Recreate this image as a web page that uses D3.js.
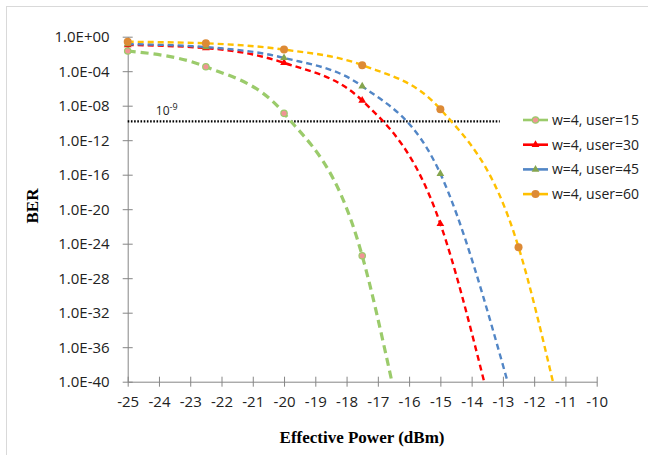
<!DOCTYPE html>
<html>
<head>
<meta charset="utf-8">
<script src="https://cdn.jsdelivr.net/npm/d3@7"></script>
<style>
    body { margin: 0; background: #fff; }
    svg { display: block; }
</style>
</head>
<body>
<svg id="chart" width="648" height="455"></svg>
<script>
// Effective power (dBm) and BER; last point of each is where the curve meets the 1E-40 floor
const power15 = [-25, -22.5, -20, -17.5, -16.55];
const ber15 = [2.2e-2, 3.3e-4, 1.3e-9, 4e-26, 1e-40];
const power30 = [-25, -22.5, -20, -17.5, -15, -13.6];
const ber30 = [1.1e-1, 4.8e-2, 9.3e-4, 4e-8, 2e-22, 1e-40];
const power45 = [-25, -22.5, -20, -17.5, -15, -12.85];
const ber45 = [1.4e-1, 6.3e-2, 3.5e-3, 1.8e-6, 1.3e-16, 1e-40];
const power60 = [-25, -22.5, -20, -17.5, -15, -12.5, -11.4];
const ber60 = [2.6e-1, 1.7e-1, 3.2e-2, 5e-4, 4e-9, 4e-25, 1e-40];

const seriesNames = ["w=4, user=15", "w=4, user=30", "w=4, user=45", "w=4, user=60"];
const xTicks = d3.range(-25, -9, 1);
const yTickExponents = [0, -4, -8, -12, -16, -20, -24, -28, -32, -36, -40];
const threshold = 1.5e-10;      // dotted reference line (labelled 10^-9)
const thresholdEnd = -13.1;

const svg = d3.select("#chart");
const margin = { top: 36.7, right: 51.3, bottom: 73.3, left: 127.7 };
const width = 648 - margin.left - margin.right;
const height = 455 - margin.top - margin.bottom;

// outer chart border
svg.append("rect")
    .attr("x", 6.5).attr("y", 6.5)
    .attr("width", 700).attr("height", 500)
    .attr("fill", "none")
    .attr("stroke", "#d9d9d9");

const g = svg.append("g").attr("transform", `translate(${margin.left},${margin.top})`);

const x = d3.scaleLinear().domain([-25, -10]).range([0, width]);
const y = d3.scaleLog().domain([1e-40, 1]).range([height, 0]);

g.append("clipPath").attr("id", "plotClip")
    .append("rect").attr("x", 0).attr("y", -10).attr("width", width).attr("height", height + 10);

// axes
const fmt = e => "1.0E" + (e >= 0 ? "+" : "-") + String(Math.abs(e)).padStart(2, "0");

const yAxis = g.append("g")
    .call(d3.axisLeft(y).tickValues(yTickExponents.map(e => Math.pow(10, e))).tickSizeInner(5).tickSizeOuter(0).tickPadding(13)
        .tickFormat((d, i) => fmt(yTickExponents[i])));
yAxis.selectAll(".tick line").attr("x1", 5);

const xAxis = g.append("g")
    .attr("transform", `translate(0,${height})`)
    .call(d3.axisBottom(x).tickValues(xTicks).tickSizeInner(5).tickSizeOuter(0).tickPadding(10)
        .tickFormat(d => String(d)));
xAxis.selectAll(".tick line").attr("y1", -5);

[yAxis, xAxis].forEach(ax => {
    ax.select(".domain").attr("stroke", "#868686");
    ax.selectAll(".tick line").attr("stroke", "#868686");
    ax.selectAll(".tick text")
        .attr("fill", "#222")
        .style("font-family", "'Open Sans', sans-serif")
        .style("font-size", "15px");
});

// axis titles
svg.append("text")
    .attr("transform", "translate(38,206) rotate(-90)")
    .attr("text-anchor", "middle")
    .style("font-family", "'Liberation Serif', 'Times New Roman', serif")
    .style("font-weight", "bold")
    .style("font-size", "17px")
    .text("BER");

svg.append("text")
    .attr("x", 362).attr("y", 443)
    .attr("text-anchor", "middle")
    .style("font-family", "'Liberation Serif', 'Times New Roman', serif")
    .style("font-weight", "bold")
    .style("font-size", "17px")
    .text("Effective Power (dBm)");

// threshold line
g.append("line")
    .attr("x1", x(-25)).attr("x2", x(thresholdEnd))
    .attr("y1", y(threshold)).attr("y2", y(threshold))
    .attr("stroke", "#000")
    .attr("stroke-width", 2.2)
    .attr("stroke-dasharray", "1.6,1.6");

const thrLabel = g.append("text")
    .attr("x", x(-24.1)).attr("y", y(threshold) - 6)
    .style("font-family", "'Open Sans', sans-serif")
    .style("font-size", "12px")
    .attr("fill", "#222");
thrLabel.append("tspan").text("10");
thrLabel.append("tspan").attr("dy", -5).style("font-size", "9px").text("-9");

const series = [
    { name: seriesNames[0], xs: power15, ys: ber15, color: "#9bcb6b", width: 3.2, dash: "8,5", marker: "circle", fill: "#f09494", stroke: "#9bcb6b", size: 3.2 },
    { name: seriesNames[1], xs: power30, ys: ber30, color: "#ff0000", width: 2.4, dash: "6,4", marker: "triangle", fill: "#ff0000", stroke: "none", size: 3.5 },
    { name: seriesNames[2], xs: power45, ys: ber45, color: "#5286c6", width: 2.4, dash: "6,4", marker: "triangle", fill: "#85a54e", stroke: "none", size: 3.5 },
    { name: seriesNames[3], xs: power60, ys: ber60, color: "#ffc000", width: 2.4, dash: "6,4", marker: "circle", fill: "#dd8a35", stroke: "none", size: 4 }
];

const line = d3.line()
    .x(d => x(d[0]))
    .y(d => y(d[1]))
    .curve(d3.curveMonotoneX);

function drawMarker(sel, s, px, py) {
    if (s.marker === "circle") {
        sel.append("circle")
            .attr("cx", px).attr("cy", py).attr("r", s.size)
            .attr("fill", s.fill)
            .attr("stroke", s.stroke)
            .attr("stroke-width", 1.2);
    } else {
        sel.append("path")
            .attr("transform", `translate(${px},${py})`)
            .attr("d", d3.symbol(d3.symbolTriangle, 26)())
            .attr("fill", s.fill);
    }
}

const plot = g.append("g").attr("clip-path", "url(#plotClip)");

series.forEach(s => {
    const pts = s.xs.map((v, i) => [v, s.ys[i]]);
    plot.append("path")
        .datum(pts)
        .attr("d", line)
        .attr("fill", "none")
        .attr("stroke", s.color)
        .attr("stroke-width", s.width)
        .attr("stroke-dasharray", s.dash);
});

// markers on top of all lines
series.forEach(s => {
    s.xs.forEach((v, i) => {
        if (s.ys[i] > 1e-40) drawMarker(g, s, x(v), y(s.ys[i]));
    });
});

// legend
const legend = svg.append("g").attr("transform", "translate(523,120)");
series.forEach((s, i) => {
    const row = legend.append("g").attr("transform", `translate(0,${i * 24.7})`);
    row.append("line")
        .attr("x1", 0).attr("x2", 25)
        .attr("y1", 0).attr("y2", 0)
        .attr("stroke", s.color)
        .attr("stroke-width", 2.6);
    drawMarker(row, s, 12.5, 0);
    row.append("text")
        .attr("x", 29).attr("y", 5)
        .style("font-family", "'Open Sans', sans-serif")
        .style("font-size", "14px")
        .attr("fill", "#222")
        .text(s.name);
});
</script>
</body>
</html>
